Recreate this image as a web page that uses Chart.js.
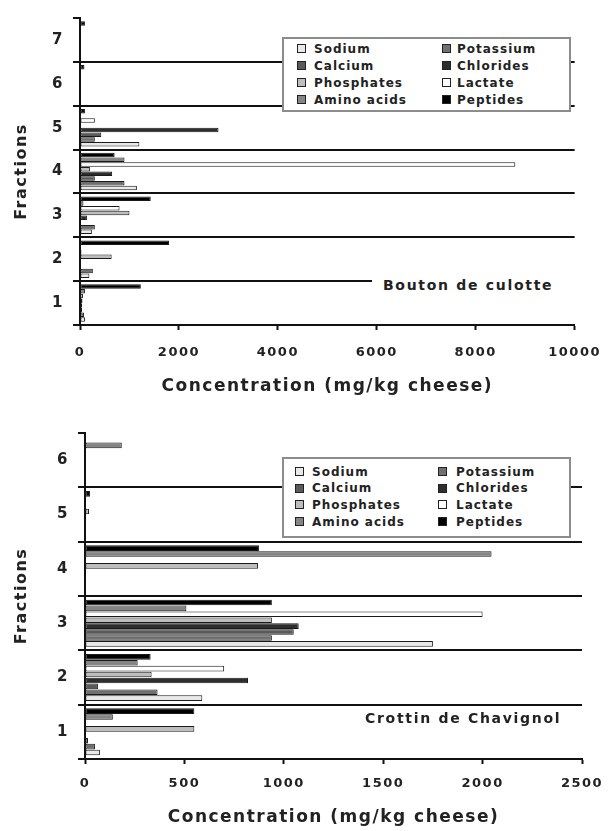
<!DOCTYPE html>
<html>
<head>
<meta charset="utf-8">
<script src="https://cdn.jsdelivr.net/npm/chart.js@4.4.1/dist/chart.umd.min.js"></script>
<style>
  body { margin:0; background:#fff; width:616px; height:831px; position:relative; overflow:hidden; font-family:"DejaVu Sans", sans-serif; }
  canvas { position:absolute; left:0; }
  .legend { position:absolute; background:#fff; border:2px solid #8c8c8c; box-sizing:border-box; }
  .item { position:absolute; font-weight:bold; font-size:12px; letter-spacing:1px; color:#222; line-height:14px; white-space:nowrap; }
  .sw { position:absolute; width:7px; height:7px; border:1px solid #222; }
  .note { position:absolute; font-weight:bold; font-size:14px; letter-spacing:1.7px; color:#222; white-space:nowrap; }
</style>
</head>
<body>
<canvas id="bouton" width="616" height="405" style="top:0"></canvas>
<canvas id="crottin" width="616" height="426" style="top:405px"></canvas>

<script>
// series (legend order)
var seriesNames = ['Sodium', 'Potassium', 'Calcium', 'Chlorides', 'Phosphates', 'Lactate', 'Amino acids', 'Peptides'];
var seriesColors = ['#e8e8e8', '#707070', '#5a5a5a', '#2e2e2e', '#bdbdbd', '#ffffff', '#858585', '#000000'];

// Bouton de culotte, fractions 1..7 (mg/kg cheese)
var boutonFractions = ['1', '2', '3', '4', '5', '6', '7'];
var boutonSodium      = [100, 190, 240, 1150, 1200, 0, 0];
var boutonPotassium   = [80, 260, 300, 900, 300, 0, 0];
var boutonCalcium     = [40, 0, 0, 300, 430, 0, 0];
var boutonChlorides   = [40, 0, 140, 650, 2800, 0, 0];
var boutonPhosphates  = [50, 640, 1000, 200, 0, 0, 0];
var boutonLactate     = [60, 30, 800, 8800, 300, 0, 0];
var boutonAminoAcids  = [100, 0, 70, 900, 0, 0, 0];
var boutonPeptides    = [1230, 1800, 1430, 700, 100, 90, 100];
var boutonTicks = [0, 2000, 4000, 6000, 8000, 10000];

// Crottin de Chavignol, fractions 1..6
var crottinFractions = ['1', '2', '3', '4', '5', '6'];
var crottinSodium     = [75, 590, 1750, 0, 0, 0];
var crottinPotassium  = [50, 365, 940, 0, 0, 0];
var crottinCalcium    = [15, 65, 1050, 0, 0, 0];
var crottinChlorides  = [5, 820, 1075, 0, 0, 0];
var crottinPhosphates = [550, 335, 940, 870, 20, 0];
var crottinLactate    = [0, 700, 2000, 0, 0, 0];
var crottinAminoAcids = [140, 265, 510, 2045, 0, 185];
var crottinPeptides   = [550, 330, 940, 875, 25, 0];
var crottinTicks = [0, 500, 1000, 1500, 2000, 2500];

var FONT = '"DejaVu Sans", sans-serif';
var INK = '#222';

// wide tracking like the printed figure
var spacing = {
	id: 'spacing',
	beforeUpdate: function(chart){ chart.ctx.letterSpacing = '1.5px'; },
	beforeDraw: function(chart){ chart.ctx.letterSpacing = '1.5px'; }
};

function makeChart(id, fractions, values, ticks, box){
	// top of the chart is the last fraction
	var labels = fractions.slice().reverse();
	var datasets = seriesNames.map(function(name, s){
		return {
			label: name,
			data: values[s].slice().reverse(),
			backgroundColor: seriesColors[s],
			borderColor: '#1a1a1a',
			borderWidth: 1,
			borderSkipped: false,
			categoryPercentage: box.catPct,
			barPercentage: 0.95
		};
	}).reverse(); // peptides at top of each group, sodium at bottom

	return new Chart(document.getElementById(id), {
		type: 'bar',
		data: { labels: labels, datasets: datasets },
		plugins: [spacing],
		options: {
			indexAxis: 'y',
			responsive: false,
			devicePixelRatio: 1,
			animation: false,
			layout: { padding: box.pad },
			plugins: { legend: { display: false }, tooltip: { enabled: false } },
			scales: {
				x: {
					type: 'linear',
					min: ticks[0],
					max: ticks[ticks.length - 1],
					afterBuildTicks: function(s){ s.ticks = ticks.map(function(v){ return { value: v }; }); },
					ticks: {
						color: INK,
						padding: box.xTickPad,
						maxRotation: 0,
						font: { family: FONT, size: 13, weight: 'bold' },
						callback: function(v){ return String(v); }
					},
					grid: { drawOnChartArea: false, tickLength: 5, tickColor: '#111', tickWidth: 2 },
					border: { color: '#111', width: 2 },
					title: {
						display: true,
						text: 'Concentration (mg/kg cheese)',
						color: INK,
						font: { family: FONT, size: 17, weight: 'bold' },
						padding: { top: 0, bottom: box.xTitlePad }
					},
					afterFit: function(s){ s.height = box.xH; }
				},
				y: {
					type: 'category',
					offset: true,
					grid: {
						offset: true,
						lineWidth: 2,
						color: function(c){ return (c.index === 0 || c.index === undefined) ? 'rgba(0,0,0,0)' : '#111'; },
						tickLength: 7,
						tickColor: '#111',
						tickWidth: 2
					},
					border: { color: '#111', width: 2 },
					ticks: { color: INK, padding: box.yTickPad, font: { family: FONT, size: 15, weight: 'bold' } },
					title: {
						display: true,
						text: 'Fractions',
						color: INK,
						font: { family: FONT, size: 16, weight: 'bold' },
						padding: { top: 12, bottom: 0 }
					},
					afterFit: function(s){ s.width = box.yW; }
				}
			}
		}
	});
}

makeChart('bouton', boutonFractions,
	[boutonSodium, boutonPotassium, boutonCalcium, boutonChlorides, boutonPhosphates, boutonLactate, boutonAminoAcids, boutonPeptides],
	boutonTicks,
	{ pad: { top: 10, right: 35, left: 0, bottom: 0 }, yW: 80, xH: 80, xTickPad: 15, xTitlePad: 8, yTickPad: 9, catPct: 0.86 });

makeChart('crottin', crottinFractions,
	[crottinSodium, crottinPotassium, crottinCalcium, crottinChlorides, crottinPhosphates, crottinLactate, crottinAminoAcids, crottinPeptides],
	crottinTicks,
	{ pad: { top: 28, right: 34, left: 0, bottom: 0 }, yW: 85, xH: 72, xTickPad: 12, xTitlePad: 3, yTickPad: 9, catPct: 0.87 });

// legends: boxes inside the plot, two columns
function addLegend(g){
	var box = document.createElement('div');
	box.className = 'legend';
	box.style.left = g.left + 'px'; box.style.top = g.top + 'px';
	box.style.width = g.width + 'px'; box.style.height = g.height + 'px';
	document.body.appendChild(box);
	seriesNames.forEach(function(name, i){
		var col = i % 2, row = Math.floor(i / 2);
		var cy = g.rowY0 + row * g.rowStep;
		var sw = document.createElement('div');
		sw.className = 'sw';
		sw.style.left = g.swX[col] + 'px';
		sw.style.top = (cy - 4.5) + 'px';
		sw.style.background = seriesColors[i];
		document.body.appendChild(sw);
		var t = document.createElement('div');
		t.className = 'item';
		t.textContent = name;
		t.style.left = g.txtX[col] + 'px';
		t.style.top = (cy - 7) + 'px';
		document.body.appendChild(t);
	});
}
addLegend({ left: 282, top: 37, width: 289, height: 75, rowY0: 48.5, rowStep: 17, swX: [297, 442], txtX: [314, 457] });
addLegend({ left: 282, top: 457, width: 289, height: 81, rowY0: 471.5, rowStep: 16.7, swX: [295, 438], txtX: [312, 456] });

// cheese names
var n1 = document.createElement('div');
n1.className = 'note';
n1.textContent = 'Bouton de culotte';
n1.style.cssText = 'left:372px;top:273px;width:200px;height:24px;line-height:24px;padding-left:11px;background:#fff;';
document.body.appendChild(n1);
var n2 = document.createElement('div');
n2.className = 'note';
n2.textContent = 'Crottin de Chavignol';
n2.style.cssText = 'left:365px;top:709px;line-height:18px;';
document.body.appendChild(n2);
</script>
</body>
</html>
